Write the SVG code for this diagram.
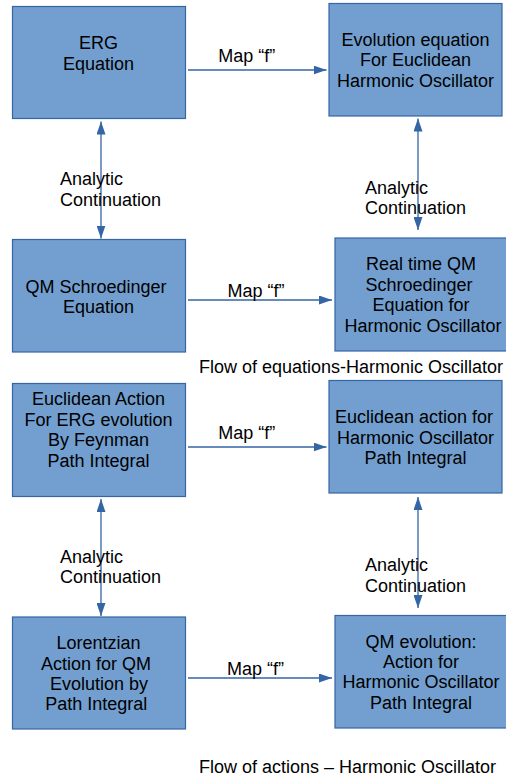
<svg xmlns="http://www.w3.org/2000/svg" width="506" height="778" viewBox="0 0 506 778">
<style>
.box{fill:#729fcf;stroke:#3465a4;stroke-width:1.2}
text{font-family:"Liberation Sans",Arial,sans-serif;font-size:18px;fill:#000}
.c{text-anchor:middle}
.conn line{stroke:#3465a4;stroke-width:1.3;fill:none}
</style>
<defs>
<marker id="ah" viewBox="0 0 13 9" refX="13" refY="4.5" markerWidth="13" markerHeight="9" markerUnits="userSpaceOnUse" orient="auto-start-reverse">
<path d="M0,0 L13,4.5 L0,9 z" fill="#3465a4"/>
</marker>
</defs>
<rect width="506" height="778" fill="#fff"/>
<g id="n1"><rect class="box" x="12.5" y="6.5" width="173" height="112"/>
<text class="c" x="98.5" y="49">ERG</text><text class="c" x="98.5" y="69.5">Equation</text></g>
<g id="n2"><rect class="box" x="329" y="3.5" width="173" height="112.5"/>
<text class="c" x="415.5" y="46">Evolution equation</text><text class="c" x="415.5" y="66">For Euclidean</text><text class="c" x="415.5" y="86.5">Harmonic Oscillator</text></g>
<g id="n3"><rect class="box" x="12.5" y="239.5" width="173" height="112.5"/>
<text class="c" x="96" y="292.7">QM Schroedinger</text><text class="c" x="98.5" y="313.3">Equation</text></g>
<g id="n4"><rect class="box" x="335" y="238" width="173" height="113"/>
<text class="c" x="421" y="270">Real time QM</text><text class="c" x="419" y="290.5">Schroedinger</text><text class="c" x="421" y="311">Equation for</text><text class="c" x="423" y="331.5">Harmonic Oscillator</text></g>
<g id="n5"><rect class="box" x="12.5" y="383.5" width="173" height="113"/>
<text class="c" x="98.5" y="405">Euclidean Action</text><text class="c" x="98.5" y="425.5">For ERG evolution</text><text class="c" x="98.5" y="446">By Feynman</text><text class="c" x="98.5" y="466.5">Path Integral</text></g>
<g id="n6"><rect class="box" x="329" y="380.5" width="173" height="112.5"/>
<text class="c" x="414" y="423.3">Euclidean action for</text><text class="c" x="415.5" y="443.5">Harmonic Oscillator</text><text class="c" x="415.5" y="463.5">Path Integral</text></g>
<g id="n7"><rect class="box" x="12.5" y="617" width="173" height="112"/>
<text class="c" x="98.5" y="649.3">Lorentzian</text><text class="c" x="96" y="669.5">Action for QM</text><text class="c" x="99" y="689.5">Evolution by</text><text class="c" x="96.2" y="710">Path Integral</text></g>
<g id="n8"><rect class="box" x="335" y="615.5" width="173" height="112.5"/>
<text class="c" x="421" y="647.7">QM evolution:</text><text class="c" x="421" y="668">Action for</text><text class="c" x="421" y="688.3">Harmonic Oscillator</text><text class="c" x="421" y="708.5">Path Integral</text></g>
<g id="connectors" class="conn">
<line x1="188" y1="70" x2="326.5" y2="70" marker-end="url(#ah)"/>
<line x1="188" y1="300" x2="332" y2="300" marker-end="url(#ah)"/>
<line x1="188" y1="447" x2="326.5" y2="447" marker-end="url(#ah)"/>
<line x1="188" y1="678" x2="332" y2="678" marker-end="url(#ah)"/>
<line x1="101" y1="121.5" x2="101" y2="238.5" marker-start="url(#ah)" marker-end="url(#ah)"/>
<line x1="418" y1="118.5" x2="418" y2="230" marker-start="url(#ah)" marker-end="url(#ah)"/>
<line x1="101" y1="499" x2="101" y2="616" marker-start="url(#ah)" marker-end="url(#ah)"/>
<line x1="418" y1="497" x2="418" y2="608" marker-start="url(#ah)" marker-end="url(#ah)"/>
</g>
<g id="labels">
<text x="218.3" y="61.7">Map “f”</text>
<text x="227.5" y="297.3">Map “f”</text>
<text x="218.3" y="439">Map “f”</text>
<text x="227" y="675">Map “f”</text>
<text x="60" y="185">Analytic</text><text x="60" y="206">Continuation</text>
<text x="365" y="194">Analytic</text><text x="365" y="213.5">Continuation</text>
<text x="60" y="562.7">Analytic</text><text x="60" y="582.7">Continuation</text>
<text x="365" y="570.7">Analytic</text><text x="365" y="591.5">Continuation</text>
<text x="199" y="373.3">Flow of equations-Harmonic Oscillator</text>
<text x="199" y="773.3">Flow of actions – Harmonic Oscillator</text>
</g>
</svg>
